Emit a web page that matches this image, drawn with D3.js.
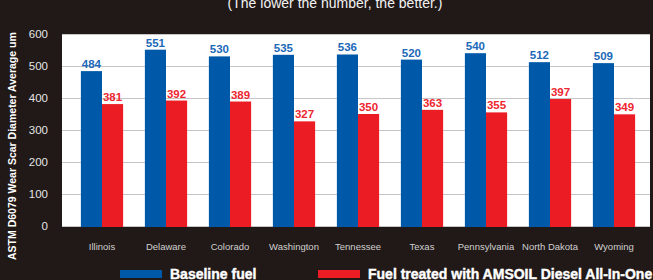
<!DOCTYPE html>
<html>

<head>
    <meta charset="utf-8" />
    <title>Wear scar chart</title>
    <style>
        body {
            margin: 0;
            overflow: hidden;
            background: #211917;
        }
        #chart {
            width: 653px;
            height: 280px;
        }
    </style>
</head>

<body>
    <div id="chart"></div>
    <script src="https://d3js.org/d3.v7.min.js"></script>
    <script>
        // chart data
        var states = ["Illinois", "Delaware", "Colorado", "Washington", "Tennessee", "Texas", "Pennsylvania", "North Dakota", "Wyoming"];
        var baseline = [484, 551, 530, 535, 536, 520, 540, 512, 509];
        var treated = [381, 392, 389, 327, 350, 363, 355, 397, 349];
        var yTicks = [0, 100, 200, 300, 400, 500, 600];
        var seriesNames = ["Baseline fuel", "Fuel treated with AMSOIL Diesel All-In-One"];

        var blue = "#0058a8", red = "#ec1c25";
        var width = 653, height = 280;
        var plot = { left: 62, right: 650, top: 34, bottom: 227 };

        var svg = d3.select("#chart")
            .append("svg")
            .attr("width", width)
            .attr("height", height)
            .style("font-family", "'Liberation Sans', Arial, sans-serif");

        // background
        svg.append("rect")
            .attr("width", width)
            .attr("height", height)
            .attr("fill", "#211917");

        // title (cut at the top in the original)
        svg.append("text")
            .attr("x", 335)
            .attr("y", 8)
            .attr("text-anchor", "middle")
            .attr("fill", "#f2f2f2")
            .style("font-size", "14px")
            .text("(The lower the number, the better.)");

        // plot area
        svg.append("rect")
            .attr("x", plot.left)
            .attr("y", plot.top)
            .attr("width", plot.right - plot.left)
            .attr("height", plot.bottom - plot.top)
            .attr("fill", "#ffffff");

        var x = d3.scaleBand()
            .domain(states)
            .range([70, 646])
            .paddingInner(0.34)
            .paddingOuter(0.17);

        var y = d3.scaleLinear()
            .domain([0, 600])
            .range([226, 34]);

        // gridlines
        svg.append("g")
            .selectAll("line")
            .data(yTicks)
            .join("line")
            .attr("x1", plot.left)
            .attr("x2", plot.right)
            .attr("y1", d => Math.round(y(d)) + 0.5)
            .attr("y2", d => Math.round(y(d)) + 0.5)
            .attr("stroke", "#c6c6c6")
            .attr("stroke-width", 1);

        // y axis labels
        var yAxis = svg.append("g")
            .attr("transform", `translate(${plot.left - 6},0)`)
            .call(d3.axisLeft(y).tickValues(yTicks).tickSize(0).tickPadding(8));
        yAxis.select(".domain").remove();
        yAxis.selectAll("text")
            .attr("fill", "#e4e4e4")
            .style("font-size", "11.5px")
            .style("font-family", "'Liberation Sans', Arial, sans-serif");

        // y axis title
        svg.append("text")
            .attr("transform", "translate(16,260) rotate(-90)")
            .attr("fill", "#ffffff")
            .style("font-size", "10.5px")
            .style("font-weight", "bold")
            .text("ASTM D6079 Wear Scar Diameter Average um");

        // bars
        var groups = svg.append("g")
            .selectAll("g")
            .data(states)
            .join("g")
            .attr("transform", d => `translate(${x(d)},0)`);

        var bw = x.bandwidth() / 2;

        groups.append("rect")
            .attr("x", 0)
            .attr("width", bw)
            .attr("y", (d, i) => y(baseline[i]))
            .attr("height", (d, i) => y(0) + 1 - y(baseline[i]))
            .attr("fill", blue);

        groups.append("rect")
            .attr("x", bw)
            .attr("width", bw)
            .attr("y", (d, i) => y(treated[i]))
            .attr("height", (d, i) => y(0) + 1 - y(treated[i]))
            .attr("fill", red);

        // value labels
        groups.append("text")
            .attr("x", bw / 2)
            .attr("y", (d, i) => y(baseline[i]) - 3)
            .attr("text-anchor", "middle")
            .attr("fill", "#2169b8")
            .style("font-size", "11.5px")
            .style("font-weight", "bold")
            .text((d, i) => baseline[i]);

        groups.append("text")
            .attr("x", bw * 1.5)
            .attr("y", (d, i) => y(treated[i]) - 3)
            .attr("text-anchor", "middle")
            .attr("fill", "#ee2630")
            .style("font-size", "11.5px")
            .style("font-weight", "bold")
            .text((d, i) => treated[i]);

        // category labels
        groups.append("text")
            .attr("x", x.bandwidth() / 2)
            .attr("y", 250)
            .attr("text-anchor", "middle")
            .attr("fill", "#d0d0d0")
            .style("font-size", "9.5px")
            .text(d => d);

        // legend
        var legendX = [120, 318];
        var legend = svg.append("g")
            .selectAll("g")
            .data(seriesNames)
            .join("g")
            .attr("transform", (d, i) => `translate(${legendX[i]},270)`);

        legend.append("rect")
            .attr("width", 42)
            .attr("height", 8)
            .attr("fill", (d, i) => i === 0 ? blue : red);

        legend.append("text")
            .attr("x", 50)
            .attr("y", 8.5)
            .attr("fill", "#ffffff")
            .attr("stroke", "#ffffff")
            .attr("stroke-width", 0.4)
            .style("font-size", "14px")
            .style("font-weight", "bold")
            .text(d => d);
    </script>
</body>

</html>
